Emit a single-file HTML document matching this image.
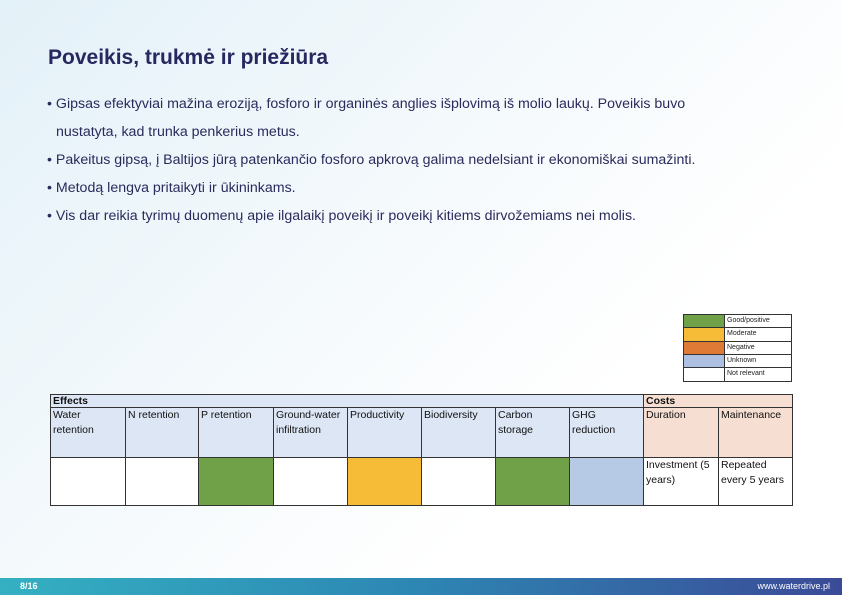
<!DOCTYPE html>
<html><head><meta charset="utf-8"><style>
*{margin:0;padding:0;box-sizing:border-box}
body{width:842px;height:595px;position:relative;overflow:hidden;font-family:"Liberation Sans",sans-serif;background:linear-gradient(135deg,#e3f1f8 0%,#f4f9fc 40%,#ffffff 70%)}
h1{position:absolute;left:48px;top:46px;font-size:21px;font-weight:bold;color:#27285f}
.b{position:absolute;left:47px;font-size:14.2px;color:#2b2b5c;white-space:nowrap}
.c{position:absolute;font-family:"Liberation Sans",sans-serif;font-size:10.5px;color:#111;border:1px solid #333;line-height:15px;padding:0 2px;white-space:nowrap}
.l{position:absolute;border:1px solid #333;font-size:7px;line-height:12px;padding-left:2px;color:#222;background:#fff}
.s{position:absolute;border:1px solid #333}
.foot{position:absolute;left:0;top:578px;width:842px;height:17px;background:linear-gradient(90deg,#34b0c2,#2d86b3 50%,#3b4a97);color:#fff;font-size:9px;font-weight:bold}
</style></head><body>
<h1>Poveikis, trukmė ir priežiūra</h1>
<div class="b" style="top:96px">• Gipsas efektyviai mažina eroziją, fosforo ir organinės anglies išplovimą iš molio laukų. Poveikis buvo</div>
<div class="b" style="top:124px;left:56px">nustatyta, kad trunka penkerius metus.</div>
<div class="b" style="top:152px">• Pakeitus gipsą, į Baltijos jūrą patenkančio fosforo apkrovą galima nedelsiant ir ekonomiškai sumažinti.</div>
<div class="b" style="top:180px">• Metodą lengva pritaikyti ir ūkininkams.</div>
<div class="b" style="top:208px">• Vis dar reikia tyrimų duomenų apie ilgalaikį poveikį ir poveikį kitiems dirvožemiams nei molis.</div>

<div class="s" style="left:683px;top:314px;width:42px;height:14px;background:#70a048"></div><div class="l" style="left:724px;top:314px;width:68px;height:14px">Good/positive</div>
<div class="s" style="left:683px;top:327px;width:42px;height:15px;background:#f6bc37"></div><div class="l" style="left:724px;top:327px;width:68px;height:15px">Moderate</div>
<div class="s" style="left:683px;top:341px;width:42px;height:14px;background:#de7a35"></div><div class="l" style="left:724px;top:341px;width:68px;height:14px">Negative</div>
<div class="s" style="left:683px;top:354px;width:42px;height:14px;background:#adc0e2"></div><div class="l" style="left:724px;top:354px;width:68px;height:14px">Unknown</div>
<div class="s" style="left:683px;top:367px;width:42px;height:15px;background:#fff"></div><div class="l" style="left:724px;top:367px;width:68px;height:15px">Not relevant</div>

<div class="c" style="left:50px;top:394px;width:594px;height:14px;background:#dce6f4;font-weight:bold;line-height:12px">Effects</div>
<div class="c" style="left:643px;top:394px;width:150px;height:14px;background:#f6dfd2;font-weight:bold;line-height:12px">Costs</div>

<div class="c" style="left:50px;top:407px;width:76px;height:51px;background:#dce6f4">Water<br>retention</div>
<div class="c" style="left:125px;top:407px;width:74px;height:51px;background:#dce6f4">N retention</div>
<div class="c" style="left:198px;top:407px;width:76px;height:51px;background:#dce6f4">P retention</div>
<div class="c" style="left:273px;top:407px;width:75px;height:51px;background:#dce6f4">Ground-water<br>infiltration</div>
<div class="c" style="left:347px;top:407px;width:75px;height:51px;background:#dce6f4">Productivity</div>
<div class="c" style="left:421px;top:407px;width:75px;height:51px;background:#dce6f4">Biodiversity</div>
<div class="c" style="left:495px;top:407px;width:75px;height:51px;background:#dce6f4">Carbon<br>storage</div>
<div class="c" style="left:569px;top:407px;width:75px;height:51px;background:#dce6f4">GHG<br>reduction</div>
<div class="c" style="left:643px;top:407px;width:76px;height:51px;background:#f6dfd2">Duration</div>
<div class="c" style="left:718px;top:407px;width:75px;height:51px;background:#f6dfd2">Maintenance</div>

<div class="c" style="left:50px;top:457px;width:76px;height:49px;background:#fff"></div>
<div class="c" style="left:125px;top:457px;width:74px;height:49px;background:#fff"></div>
<div class="c" style="left:198px;top:457px;width:76px;height:49px;background:#70a048"></div>
<div class="c" style="left:273px;top:457px;width:75px;height:49px;background:#fff"></div>
<div class="c" style="left:347px;top:457px;width:75px;height:49px;background:#f6bc37"></div>
<div class="c" style="left:421px;top:457px;width:75px;height:49px;background:#fff"></div>
<div class="c" style="left:495px;top:457px;width:75px;height:49px;background:#70a048"></div>
<div class="c" style="left:569px;top:457px;width:75px;height:49px;background:#b6cae6"></div>
<div class="c" style="left:643px;top:457px;width:76px;height:49px;background:#fff">Investment (5<br>years)</div>
<div class="c" style="left:718px;top:457px;width:75px;height:49px;background:#fff">Repeated<br>every 5 years</div>

<div class="foot"><span style="position:absolute;left:20px;top:3px">8/16</span><span style="position:absolute;right:12px;top:3px;font-weight:normal">www.waterdrive.pl</span></div>
</body></html>
